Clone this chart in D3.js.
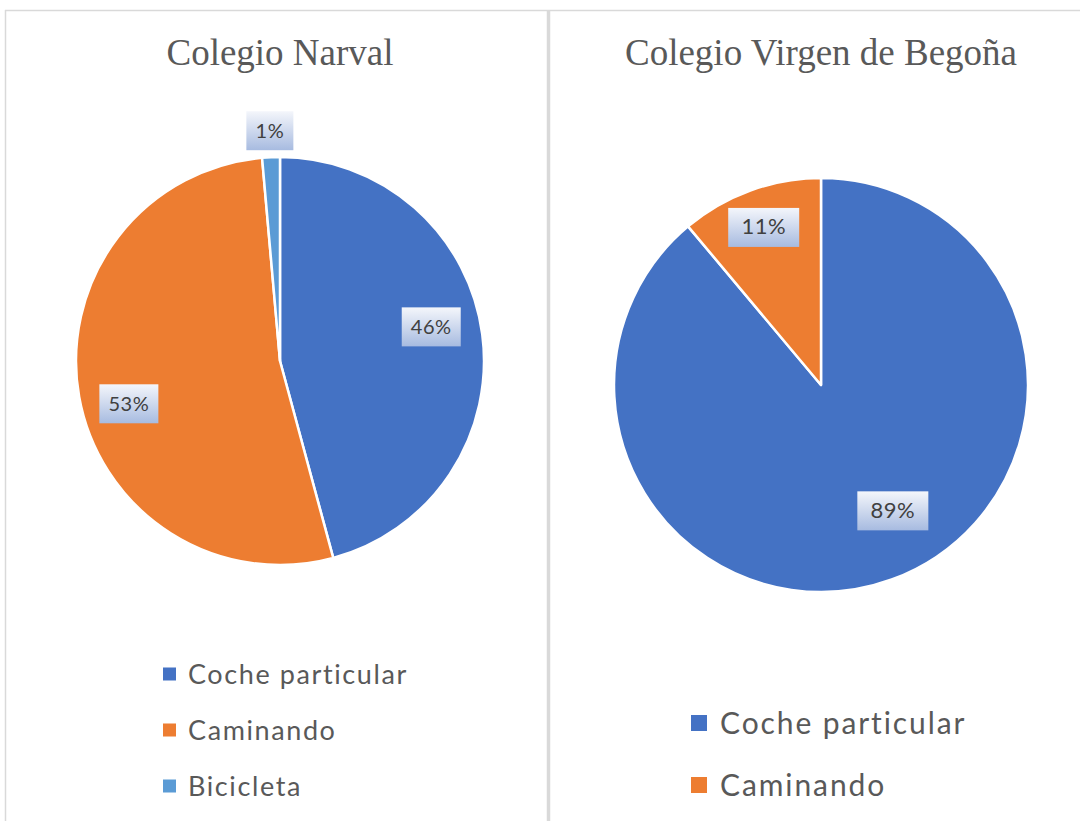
<!DOCTYPE html>
<html>
<head>
<meta charset="utf-8">
<script src="https://cdn.jsdelivr.net/npm/d3@7"></script>
<style>
  html, body { margin: 0; padding: 0; background: #fff; }
  svg { display: block; }
</style>
</head>
<body>
<svg id="chart" width="1080" height="821"></svg>
<script>
// datos de los dos colegios
const categoriasNarval = ["Coche particular", "Caminando", "Bicicleta"];
const valoresNarval = [45.8, 52.8, 1.4];
const etiquetasNarval = ["46%", "53%", "1%"];

const categoriasBegona = ["Coche particular", "Caminando"];
const valoresBegona = [88.9, 11.1];
const etiquetasBegona = ["89%", "11%"];

const colores = ["#4472C4", "#ED7D31", "#5B9BD5"];

const svg = d3.select("#chart");

// marco gris
svg.append("line").attr("x1", 5).attr("x2", 1080).attr("y1", 10.5).attr("y2", 10.5)
    .attr("stroke", "#d9d9d9").attr("stroke-width", 1.5);
svg.append("line").attr("x1", 5.5).attr("x2", 5.5).attr("y1", 10).attr("y2", 821)
    .attr("stroke", "#d9d9d9").attr("stroke-width", 1.5);
svg.append("line").attr("x1", 548.5).attr("x2", 548.5).attr("y1", 10).attr("y2", 821)
    .attr("stroke", "#d9d9d9").attr("stroke-width", 3.5);

// gradiente de las etiquetas
const grad = svg.append("defs").append("linearGradient")
    .attr("id", "lblGrad").attr("x1", 0).attr("y1", 0).attr("x2", 0).attr("y2", 1);
grad.append("stop").attr("offset", "0%").attr("stop-color", "#f4f6fb");
grad.append("stop").attr("offset", "100%").attr("stop-color", "#a7bbe0");

function dibujarPie(cfg) {
    const g = svg.append("g");

    g.append("text")
        .attr("x", cfg.cx).attr("y", cfg.tituloY)
        .attr("text-anchor", "middle")
        .style("font-family", "'Liberation Serif', 'Times New Roman', serif")
        .style("font-size", cfg.tituloSize + "px")
        .style("fill", "#595959")
        .text(cfg.titulo);

    const pie = d3.pie().sort(null).value(d => d)(cfg.valores);
    const arc = d3.arc().innerRadius(0).outerRadius(cfg.r);

    const pg = g.append("g").attr("transform", `translate(${cfg.cx},${cfg.cy})`);
    pg.selectAll("path").data(pie).enter().append("path")
        .attr("d", arc)
        .attr("fill", (d, i) => colores[i])
        .attr("stroke", "#fff").attr("stroke-width", 2.5).attr("stroke-linejoin", "round");

    // etiquetas de porcentaje
    pie.forEach((d, i) => {
        const k = d.endAngle - d.startAngle < 0.2 ? cfg.r * 1.13 : cfg.r * cfg.lblK[i];
        const a = (d.startAngle + d.endAngle) / 2 + cfg.lblRot[i];
        const x = Math.sin(a) * k, y = -Math.cos(a) * k;
        const w = cfg.etiquetas[i].length > 2 ? cfg.lblW : cfg.lblW - 12, h = 39;
        pg.append("rect").attr("x", x - w / 2).attr("y", y - h / 2)
            .attr("width", w).attr("height", h).attr("fill", "url(#lblGrad)");
        pg.append("text").attr("x", x).attr("y", y + 7)
            .attr("text-anchor", "middle")
            .style("font-family", "Lato, 'Open Sans', sans-serif")
            .style("font-size", cfg.lblSize + "px")
            .style("letter-spacing", "0.5px")
            .style("fill", "#404040")
            .text(cfg.etiquetas[i]);
    });

    // leyenda
    const lg = g.append("g").selectAll("g").data(cfg.categorias).enter().append("g")
        .attr("transform", (d, i) => `translate(${cfg.legX},${cfg.legY + i * cfg.legStep})`);
    lg.append("rect").attr("x", 0).attr("y", -cfg.legSq / 2)
        .attr("width", cfg.legSq).attr("height", cfg.legSq)
        .attr("fill", (d, i) => colores[i]);
    lg.append("text").attr("x", cfg.legSq + cfg.legGap).attr("y", cfg.legSize * 0.36)
        .style("font-family", "Lato, 'Open Sans', sans-serif")
        .style("font-size", cfg.legSize + "px")
        .style("letter-spacing", cfg.legSpacing + "px")
        .style("fill", "#595959")
        .text(d => d);
}

dibujarPie({
    titulo: "Colegio Narval", tituloY: 65, tituloSize: 37,
    cx: 280, cy: 361, r: 204,
    valores: valoresNarval, etiquetas: etiquetasNarval, categorias: categoriasNarval,
    lblK: [0.76, 0.77, 1.13], lblRot: [-0.09, -0.1, 0], lblW: 59, lblSize: 20,
    legX: 163, legY: 674, legStep: 56, legSq: 13, legGap: 12, legSize: 27, legSpacing: 1.6
});

dibujarPie({
    titulo: "Colegio Virgen de Begoña", tituloY: 65, tituloSize: 37,
    cx: 821, cy: 385, r: 207,
    valores: valoresBegona, etiquetas: etiquetasBegona, categorias: categoriasBegona,
    lblK: [0.7, 0.81], lblRot: [-0.17, 0], lblW: 71, lblSize: 22,
    legX: 691, legY: 723, legStep: 62, legSq: 16, legGap: 13, legSize: 30, legSpacing: 1.9
});
</script>
</body>
</html>
